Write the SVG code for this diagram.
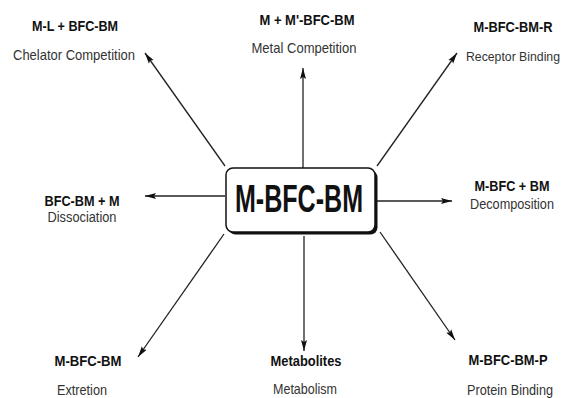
<svg xmlns="http://www.w3.org/2000/svg" width="569" height="398" viewBox="0 0 569 398">
<style>
.b{font-family:"Liberation Sans",Arial,sans-serif;font-weight:bold;font-size:15px;fill:#111;text-anchor:middle}
.r{font-family:"Liberation Sans",Arial,sans-serif;font-size:15px;fill:#333;text-anchor:middle}
.s{font-size:14px}
.c line{stroke:#222;stroke-width:1.3;marker-end:url(#ah)}
</style>
<defs>
<marker id="ah" markerUnits="userSpaceOnUse" markerWidth="12" markerHeight="8" viewBox="0 0 12 8" refX="11" refY="4" orient="auto">
<path d="M0,1 L11,4 L0,7 L2,4 Z" fill="#111"/>
</marker>
</defs>
<g id="connectors" class="c">
<line x1="225" y1="166" x2="145" y2="53"/>
<line x1="303" y1="168" x2="303" y2="68"/>
<line x1="377" y1="166" x2="457" y2="53"/>
<line x1="225" y1="196" x2="145" y2="196"/>
<line x1="377" y1="201" x2="452" y2="201"/>
<line x1="224" y1="234" x2="138" y2="357"/>
<line x1="304" y1="236" x2="304" y2="351"/>
<line x1="380" y1="232" x2="455" y2="340"/>
</g>
<g id="center">
<rect x="228.5" y="170.5" width="149" height="64" rx="7" fill="#111"/>
<rect x="226" y="168" width="149" height="64" rx="7" fill="#fff" stroke="#111" stroke-width="1.5"/>
<text x="299" y="212" font-family="'Liberation Sans',Arial,sans-serif" font-weight="bold" font-size="39" fill="#111" text-anchor="middle" textLength="128" lengthAdjust="spacingAndGlyphs">M-BFC-BM</text>
</g>
<g id="chelator">
<text class="b" x="75" y="31" textLength="86" lengthAdjust="spacingAndGlyphs">M-L + BFC-BM</text>
<text class="r" x="74" y="60" textLength="122" lengthAdjust="spacingAndGlyphs">Chelator Competition</text>
</g>
<g id="metal">
<text class="b" x="307" y="25" textLength="95" lengthAdjust="spacingAndGlyphs">M + M'-BFC-BM</text>
<text class="r" x="304" y="53" textLength="105" lengthAdjust="spacingAndGlyphs">Metal Competition</text>
</g>
<g id="receptor">
<text class="b" x="513" y="32" textLength="79" lengthAdjust="spacingAndGlyphs">M-BFC-BM-R</text>
<text class="r" x="513" y="61" font-size="13" style="font-size:13px" textLength="94" lengthAdjust="spacingAndGlyphs">Receptor Binding</text>
</g>
<g id="dissociation">
<text class="b s" x="82" y="206" textLength="75" lengthAdjust="spacingAndGlyphs">BFC-BM + M</text>
<text class="r s" x="82" y="222" textLength="69" lengthAdjust="spacingAndGlyphs">Dissociation</text>
</g>
<g id="decomposition">
<text class="b" x="512" y="191" textLength="75" lengthAdjust="spacingAndGlyphs">M-BFC + BM</text>
<text class="r" x="512" y="209" textLength="84" lengthAdjust="spacingAndGlyphs">Decomposition</text>
</g>
<g id="extretion">
<text class="b" x="88" y="366" textLength="67" lengthAdjust="spacingAndGlyphs">M-BFC-BM</text>
<text class="r" x="82" y="395" textLength="50" lengthAdjust="spacingAndGlyphs">Extretion</text>
</g>
<g id="metabolism">
<text class="b" x="306" y="366" textLength="71" lengthAdjust="spacingAndGlyphs">Metabolites</text>
<text class="r" x="305" y="394" textLength="64" lengthAdjust="spacingAndGlyphs">Metabolism</text>
</g>
<g id="protein">
<text class="b" x="508" y="365" textLength="79" lengthAdjust="spacingAndGlyphs">M-BFC-BM-P</text>
<text class="r" x="510" y="395" textLength="86" lengthAdjust="spacingAndGlyphs">Protein Binding</text>
</g>
</svg>
